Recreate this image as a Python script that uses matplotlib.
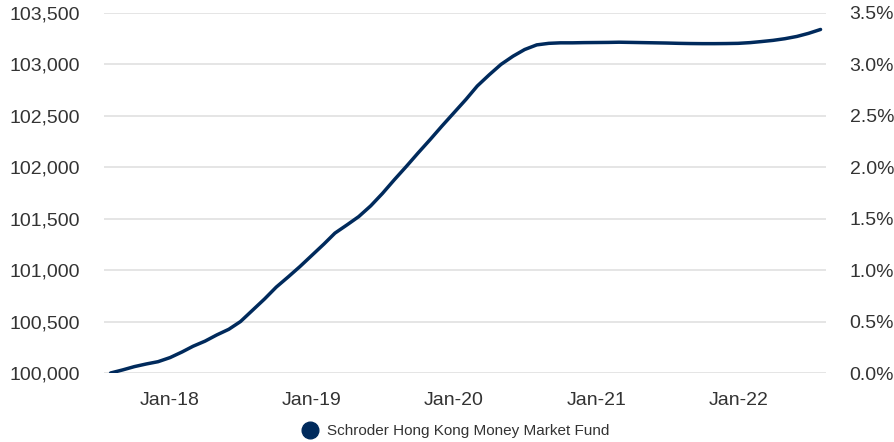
import numpy as np
import pandas as pd
import matplotlib
matplotlib.use("Agg")
import matplotlib.pyplot as plt
import matplotlib.dates as mdates
from matplotlib.lines import Line2D
from matplotlib.ticker import FuncFormatter

plt.rcParams['font.family'] = ['Liberation Sans', 'DejaVu Sans']

# monthly index values, Aug-2017 .. Aug-2022
dates = pd.date_range('2017-08-01', '2022-08-01', freq='MS')
values = [
    100000, 100030, 100062, 100088, 100110, 100150, 100205, 100260, 100310, 100370,
    100425, 100500, 100610, 100720, 100835, 100935, 101035, 101145, 101255, 101360,
    101440, 101520, 101625, 101745, 101880, 102010, 102140, 102270, 102400, 102530,
    102660, 102790, 102900, 103000, 103080, 103145, 103190, 103205, 103210, 103210,
    103212, 103213, 103214, 103216, 103214, 103212, 103210, 103208, 103205, 103203,
    103202, 103202, 103203, 103205, 103212, 103222, 103234, 103250, 103272, 103302,
    103340,
]
series_name = 'Schroder Hong Kong Money Market Fund'
left_ticks = [100000, 100500, 101000, 101500, 102000, 102500, 103000, 103500]
right_ticks = [0.0, 0.5, 1.0, 1.5, 2.0, 2.5, 3.0, 3.5]

navy = '#002a5c'
txt = '#333333'

fig = plt.figure(figsize=(8.95, 4.42), dpi=100)
ax = fig.add_axes([104 / 895, 69 / 442, 722 / 895, 360 / 442])

ax.plot(dates, values, color=navy, lw=2.5, solid_capstyle='round',
        solid_joinstyle='round', zorder=3)

ax.set_xlim(pd.Timestamp('2017-07-15'), pd.Timestamp('2022-08-15'))
ax.set_ylim(100000, 103500)
ax.set_yticks(left_ticks)
ax.yaxis.set_major_formatter(FuncFormatter(lambda v, p: f'{v:,.0f}'))
ax.xaxis.set_major_locator(mdates.MonthLocator(bymonth=1))
ax.xaxis.set_major_formatter(mdates.DateFormatter('%b-%y'))

ax.grid(axis='y', color='#e3e3e3', lw=1.3, zorder=0)
for s in ax.spines.values():
    s.set_visible(False)
ax.tick_params(axis='both', length=0, labelsize=14, colors=txt)
ax.tick_params(axis='y', pad=17)
ax.tick_params(axis='x', pad=14)

ax2 = ax.twinx()
ax2.set_ylim(0, 3.5)
ax2.set_yticks(right_ticks)
ax2.yaxis.set_major_formatter(FuncFormatter(lambda v, p: f'{v:.1f}%'))
for s in ax2.spines.values():
    s.set_visible(False)
ax2.tick_params(axis='y', length=0, labelsize=14, colors=txt, pad=17)

handle = Line2D([], [], ls='none', marker='o', ms=12, color=navy)
fig.legend([handle], [series_name], loc='center', bbox_to_anchor=(456 / 895, 1 - 431 / 442),
           frameon=False, fontsize=11, labelcolor=txt, handletextpad=0.6,
           handlelength=1.0)

fig.savefig('out.png', dpi=100)
